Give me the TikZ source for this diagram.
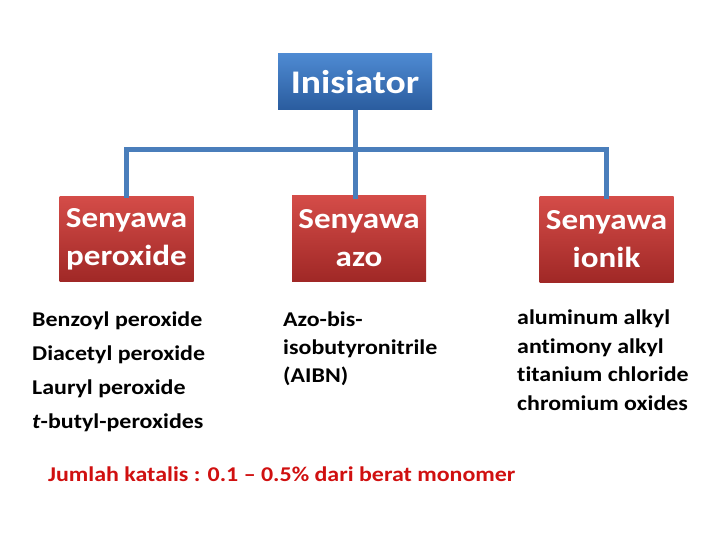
\documentclass[tikz,border=0pt]{standalone}
\usepackage{fontspec}
\setmainfont{Carlito}[FakeStretch=1.14, Ligatures=NoCommon]
\usepackage{tikz}
\usetikzlibrary{positioning}

\definecolor{barblue}{RGB}{74,126,187}
\definecolor{boxbluetop}{RGB}{78,138,210}
\definecolor{boxbluebot}{RGB}{42,92,158}
\definecolor{boxredtop}{RGB}{212,76,72}
\definecolor{boxredbot}{RGB}{160,40,38}
\definecolor{notered}{RGB}{208,16,16}

\tikzset{
  topbox/.style={minimum width=154pt, minimum height=56pt, inner sep=0pt,
    top color=boxbluetop, bottom color=boxbluebot, text=white,
    font=\fontsize{33}{36}\selectfont\bfseries},
  groupbox/.style={minimum width=134pt, minimum height=85pt, inner sep=0pt,
    top color=boxredtop, bottom color=boxredbot, text=white, align=center,
    font=\fontsize{29}{38}\selectfont\bfseries},
  link/.style={draw=barblue, line width=5pt},
  itemlist/.style={anchor=north west, inner sep=0pt, align=left}
}

\begin{document}
\begin{tikzpicture}[x=1pt, y=-1pt]
\useasboundingbox (0,0) rectangle (720,540);
% Kotak utama
\node[topbox] (init) at (355,82) {Inisiator};
\coordinate (bar) at (355,150);

% Tiga golongan inisiator
\node[groupbox] (perox) at (126.5,239) {Senyawa\\peroxide};
\node[groupbox] (azo) at (359,238.5) {Senyawa\\azo};
\node[groupbox] (ionik) at (606.5,239.5) {Senyawa\\ionik};

% Garis penghubung
\draw[link] (init.south) -- ([yshift=-3pt]init.south |- azo.north);
\draw[link, shorten <=-2.5pt, shorten >=-2.5pt] (perox.north |- bar) -- (ionik.north |- bar);
\draw[link] (perox.north |- bar) -- ([yshift=-2pt]perox.north);
\draw[link] (ionik.north |- bar) -- ([yshift=-2pt]ionik.north);

% Contoh senyawa
\node[itemlist, font=\fontsize{21}{34}\selectfont\bfseries] (peroxlist) at (32,312)
  {Benzoyl peroxide\\Diacetyl peroxide\\Lauryl peroxide\\\textit{t}-butyl-peroxides};
\node[itemlist, font=\fontsize{21}{28}\selectfont\bfseries] (azolist) at (283,312)
  {Azo-bis-\\isobutyronitrile\\(AIBN)};
\node[itemlist, font=\fontsize{21}{28.5}\selectfont\bfseries] (ioniklist) at (517,310)
  {aluminum alkyl\\antimony alkyl\\titanium chloride\\chromium oxides};

% Catatan
\node[anchor=base west, inner sep=0pt, text=notered,
  font=\fontsize{21}{24}\selectfont\bfseries] (note) at (48,481)
  {Jumlah katalis : 0.1 -- 0.5\% dari berat monomer};
\end{tikzpicture}
\end{document}
